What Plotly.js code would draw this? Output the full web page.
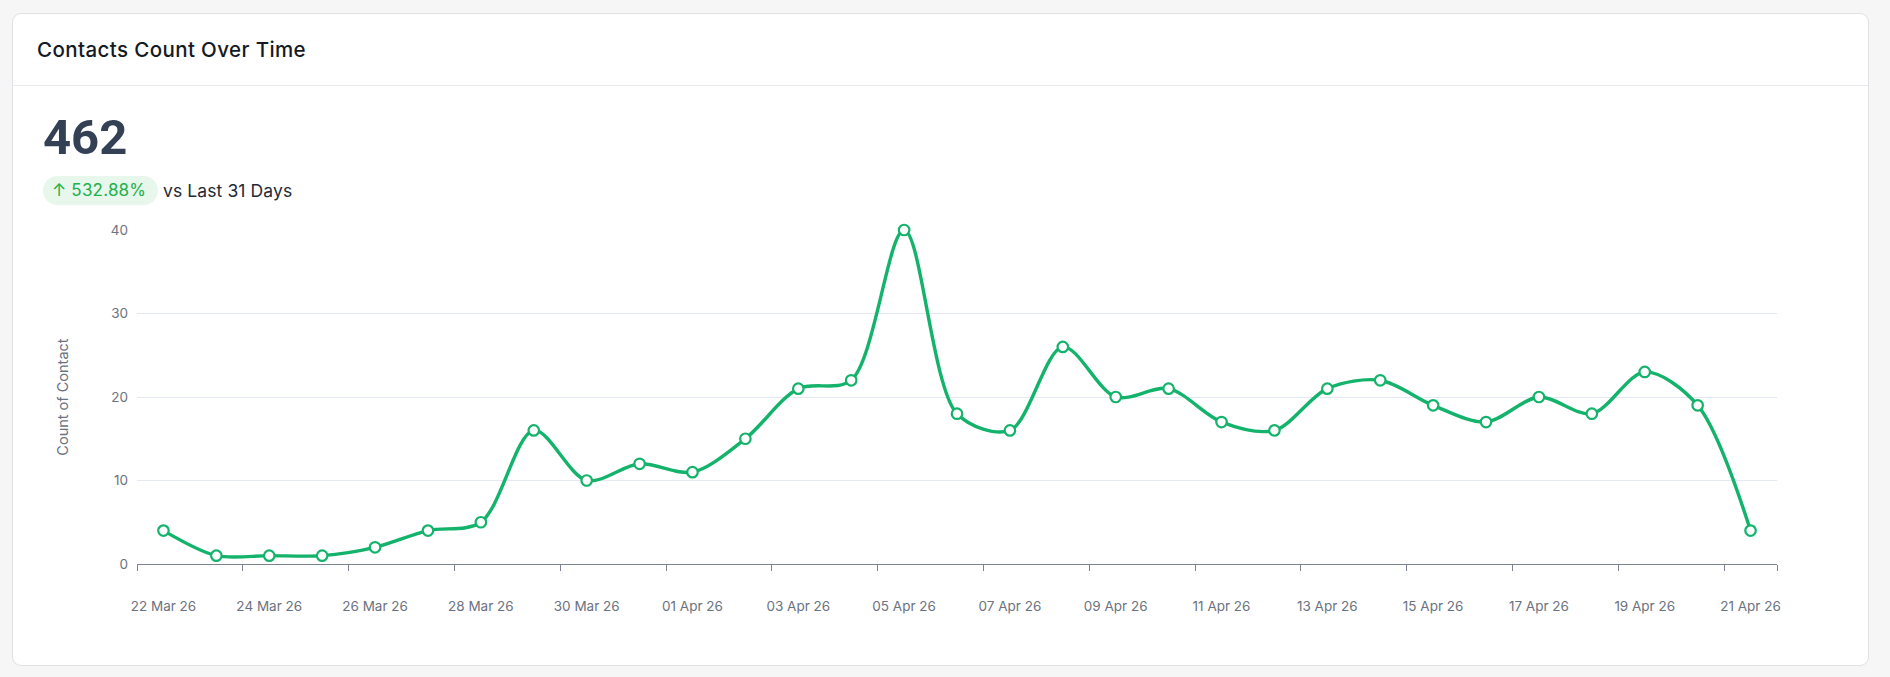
<!DOCTYPE html>
<html>
<head>
<meta charset="utf-8">
<script src="https://cdn.plot.ly/plotly-3.0.1.min.js"></script>
<style>
  html, body { margin: 0; padding: 0; width: 1890px; height: 677px; background: #f6f6f7; overflow: hidden; font-family: Inter, "Open Sans", sans-serif; }
  .card { position: absolute; left: 12px; top: 13px; width: 1857px; height: 653px; background: #ffffff; border: 1px solid #dfe1e5; border-radius: 9px; box-sizing: border-box; }
  .head { position: absolute; left: 0; top: 0; right: 0; height: 71px; border-bottom: 1px solid #e8eaee; }
  .title { position: absolute; left: 24px; top: 23px; font-size: 20.5px; font-weight: 500; color: #141a24; letter-spacing: 0.4px; }
  .big { position: absolute; left: 30px; top: 99px; font-family: Roboto, "Liberation Sans", sans-serif; font-weight: 700; font-size: 49px; color: #344054; line-height: 1; }
  .badge { position: absolute; left: 30px; top: 162px; height: 29px; width: 115px; border-radius: 15px; background: #e7f7eb; color: #22b04b; font-size: 17px; line-height: 29px; box-sizing: border-box; padding-left: 9px; letter-spacing: 0.2px; }
  .vs { position: absolute; left: 150px; top: 162px; line-height: 29px; font-size: 17.5px; color: #232a36; letter-spacing: 0.1px; }
  #chart { position: absolute; left: 0; top: 0; width: 1890px; height: 677px; }
</style>
</head>
<body>
<div class="card">
  <div class="head"><div class="title">Contacts Count Over Time</div></div>
  <div class="big">462</div>
  <div class="badge">↑ 532.88%</div>
  <div class="vs">vs Last 31 Days</div>
</div>
<div id="chart"></div>
<script>
const dates = ["22 Mar 26","23 Mar 26","24 Mar 26","25 Mar 26","26 Mar 26","27 Mar 26","28 Mar 26","29 Mar 26","30 Mar 26","31 Mar 26",
  "01 Apr 26","02 Apr 26","03 Apr 26","04 Apr 26","05 Apr 26","06 Apr 26","07 Apr 26","08 Apr 26","09 Apr 26","10 Apr 26",
  "11 Apr 26","12 Apr 26","13 Apr 26","14 Apr 26","15 Apr 26","16 Apr 26","17 Apr 26","18 Apr 26","19 Apr 26","20 Apr 26","21 Apr 26"];
const counts = [4,1,1,1,2,4,5,16,10,12,11,15,21,22,40,18,16,26,20,21,17,16,21,22,19,17,20,18,23,19,4];
const yTicks = [0,10,20,30,40];

const idx = dates.map((d, i) => i);
const labelIdx = idx.filter(i => i % 2 === 0);
const tickBounds = labelIdx.map(i => i - 0.5).concat([dates.length - 0.5]);

const green = '#14b36b';
const trace = {
  x: idx, y: counts, type: 'scatter', mode: 'lines+markers',
  line: { color: green, width: 3.4, shape: 'spline', smoothing: 0.9 },
  marker: { size: 10.5, color: '#ffffff', line: { color: green, width: 2.2 } },
  cliponaxis: false, hoverinfo: 'skip', showlegend: false
};
const axisFont = { family: 'Inter, "Open Sans", sans-serif', size: 13.5, color: '#6b7280' };
const layout = {
  width: 1890, height: 677,
  margin: { l: 137, r: 113, t: 230, b: 113 },
  paper_bgcolor: 'rgba(0,0,0,0)', plot_bgcolor: 'rgba(0,0,0,0)',
  xaxis: {
    range: [-0.5, dates.length - 0.5], tickvals: labelIdx, ticktext: labelIdx.map(i => dates[i]),
    ticks: '', showgrid: false, zeroline: false, showline: true, linecolor: '#7b8391', linewidth: 1,
    tickfont: axisFont, ticklabelstandoff: 30, fixedrange: true
  },
  xaxis2: {
    overlaying: 'x', anchor: 'y', side: 'bottom', range: [-0.5, dates.length - 0.5],
    tickvals: tickBounds, ticktext: tickBounds.map(() => ''), ticks: 'outside', ticklen: 6,
    tickcolor: '#7b8391', tickwidth: 1, showgrid: false, zeroline: false, showline: false, showticklabels: false
  },
  yaxis: {
    range: [0, 40], tickvals: yTicks, ticks: '', showgrid: true, gridcolor: '#e3e8f2', gridwidth: 1,
    zeroline: false, showline: false, tickfont: axisFont, ticklabelstandoff: 8,
    title: { text: 'Count of Contact', font: { family: 'Inter, "Open Sans", sans-serif', size: 14.5, color: '#6b7280' }, standoff: 38 }
  },
  font: axisFont
};
const dummy = { x: [0], y: [0], xaxis: 'x2', yaxis: 'y', mode: 'markers', marker: { opacity: 0 }, showlegend: false, hoverinfo: 'skip' };
Plotly.newPlot('chart', [dummy, trace], layout, { staticPlot: true, displayModeBar: false });
</script>
</body>
</html>
